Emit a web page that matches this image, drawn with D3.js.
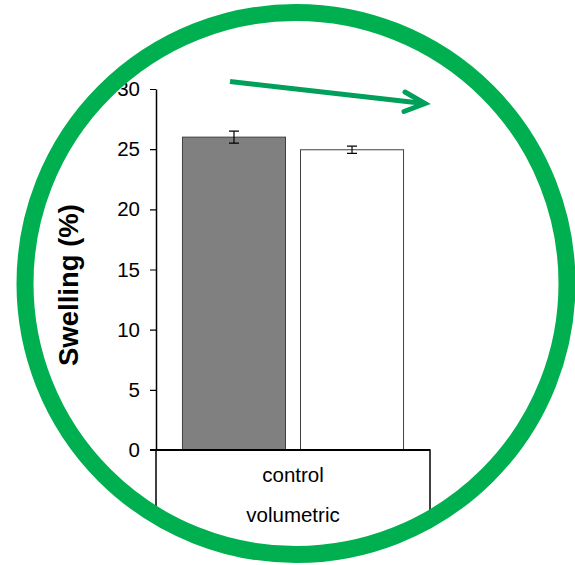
<!DOCTYPE html>
<html>
<head>
<meta charset="utf-8">
<script src="https://cdn.jsdelivr.net/npm/d3@7"></script>
<style>
  html, body { margin: 0; padding: 0; background: #ffffff; }
  svg { display: block; }
  text { font-family: Arial, "Liberation Sans", sans-serif; }
</style>
</head>
<body>
<svg id="chart" width="575" height="565"></svg>
<script>
// ---- data ----
const categories = ["control"];
const categoryRow2 = ["volumetric"];
const seriesNames = ["gray", "white"];
const seriesValues = [26.0, 24.95];
const seriesErrors = [0.5, 0.3];
const seriesFills = ["#808080", "#ffffff"];
const yTicks = [0, 5, 10, 15, 20, 25, 30];
const yTitle = "Swelling (%)";

// ---- layout ----
const W = 575, H = 565;
const plot = { left: 156, right: 430, top: 89, bottom: 450 };
const ring = { cx: 296, cy: 283.5, r: 271, width: 17, color: "#00b050" };

const svg = d3.select("#chart");

const defs = svg.append("defs");
defs.append("clipPath").attr("id", "ringClip")
  .append("circle").attr("cx", ring.cx).attr("cy", ring.cy).attr("r", ring.r);

const g = svg.append("g").attr("clip-path", "url(#ringClip)");

const y = d3.scaleLinear().domain([0, 30]).range([plot.bottom, plot.top]);
const x = d3.scaleBand().domain(seriesNames)
  .range([plot.left, plot.right])
  .paddingInner(0.1186).paddingOuter(0.22);

// category table box
g.append("rect")
  .attr("x", plot.left).attr("y", plot.bottom)
  .attr("width", plot.right - plot.left).attr("height", 130)
  .attr("fill", "#ffffff").attr("stroke", "#000").attr("stroke-width", 1.5);

// bars
g.selectAll("rect.bar").data(seriesNames).enter().append("rect")
  .attr("class", "bar")
  .attr("x", d => x(d) + 0.5)
  .attr("width", x.bandwidth() - 1)
  .attr("y", (d, i) => y(seriesValues[i]))
  .attr("height", (d, i) => y(0) - y(seriesValues[i]))
  .attr("fill", (d, i) => seriesFills[i])
  .attr("stroke", "#404040").attr("stroke-width", 1);

// error bars
const eb = g.selectAll("g.err").data(seriesNames).enter().append("g").attr("class", "err");
eb.append("line")
  .attr("x1", d => x(d) + x.bandwidth() / 2).attr("x2", d => x(d) + x.bandwidth() / 2)
  .attr("y1", (d, i) => y(seriesValues[i] + seriesErrors[i]))
  .attr("y2", (d, i) => y(seriesValues[i] - seriesErrors[i]))
  .attr("stroke", "#000").attr("stroke-width", 1.2);
[1, -1].forEach(s => {
  eb.append("line")
    .attr("x1", d => x(d) + x.bandwidth() / 2 - 5).attr("x2", d => x(d) + x.bandwidth() / 2 + 5)
    .attr("y1", (d, i) => y(seriesValues[i] + s * seriesErrors[i]))
    .attr("y2", (d, i) => y(seriesValues[i] + s * seriesErrors[i]))
    .attr("stroke", "#000").attr("stroke-width", 1.2);
});

// y axis
const yAxis = d3.axisLeft(y).tickValues(yTicks).tickSize(6).tickPadding(10).tickSizeOuter(0);
const ya = g.append("g").attr("transform", `translate(${plot.left},0)`).call(yAxis);
ya.select(".domain").attr("stroke", "#000").attr("stroke-width", 1.5);
ya.selectAll(".tick line").attr("stroke", "#000").attr("stroke-width", 1.2);
ya.selectAll(".tick text").attr("font-size", 20.5).attr("fill", "#000")
  .attr("font-family", "Arial, 'Liberation Sans', sans-serif");

// baseline
g.append("line")
  .attr("x1", plot.left - 6).attr("x2", plot.right)
  .attr("y1", y(0)).attr("y2", y(0))
  .attr("stroke", "#000").attr("stroke-width", 2);

// category labels
const midX = (plot.left + plot.right) / 2;
g.append("text").attr("x", midX).attr("y", plot.bottom + 32)
  .attr("text-anchor", "middle").attr("font-size", 20.5).attr("fill", "#000")
  .text(categories[0]);
g.append("text").attr("x", midX).attr("y", plot.bottom + 72)
  .attr("text-anchor", "middle").attr("font-size", 20.5).attr("fill", "#000")
  .text(categoryRow2[0]);

// y title
g.append("text")
  .attr("transform", `translate(78,285) rotate(-90)`)
  .attr("text-anchor", "middle").attr("font-size", 27.5).attr("font-weight", "bold")
  .attr("fill", "#000").text(yTitle);

// trend arrow annotation
const arrowColor = "#00a05a";
const a0 = [230, 81.5], a1 = [425, 103.5];
g.append("line").attr("x1", a0[0]).attr("y1", a0[1]).attr("x2", a1[0] - 3).attr("y2", a1[1] - 0.3)
  .attr("stroke", arrowColor).attr("stroke-width", 5);
g.append("path")
  .attr("d", `M405,92 L${a1[0]},${a1[1]} L404,111.5`)
  .attr("fill", "none").attr("stroke", arrowColor).attr("stroke-width", 5)
  .attr("stroke-linecap", "round").attr("stroke-linejoin", "miter");

// green ring on top
svg.append("circle")
  .attr("cx", ring.cx).attr("cy", ring.cy).attr("r", ring.r)
  .attr("fill", "none").attr("stroke", ring.color).attr("stroke-width", ring.width);
</script>
</body>
</html>
